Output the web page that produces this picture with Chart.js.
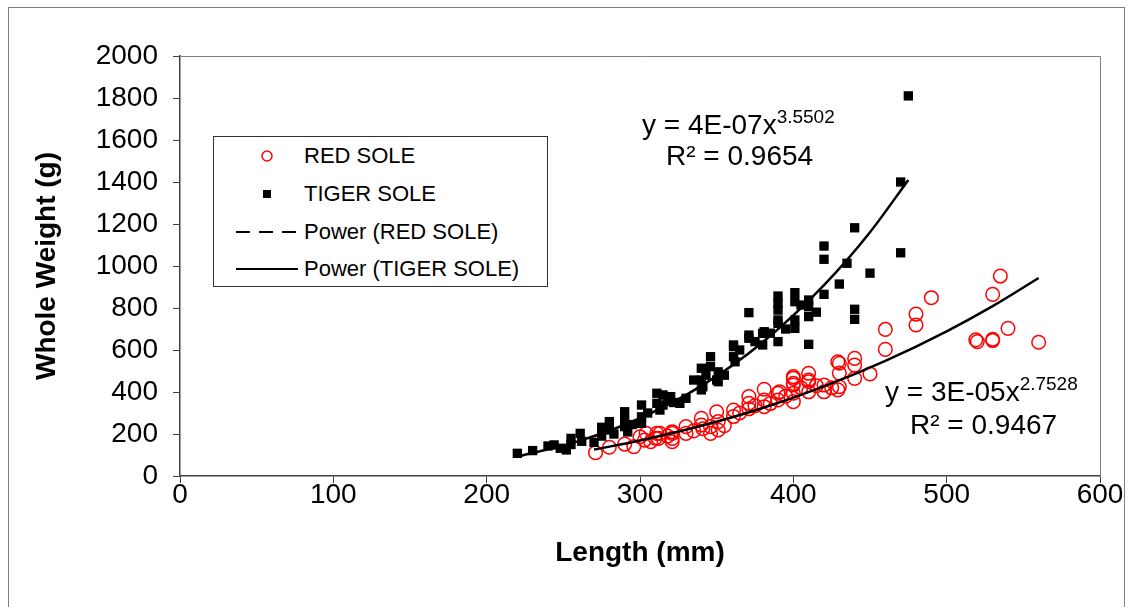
<!DOCTYPE html>
<html>
<head>
<meta charset="utf-8">
<script src="https://cdn.jsdelivr.net/npm/chart.js@4.4.1/dist/chart.umd.min.js"></script>
<style>
  body { margin: 0; background: #fff; }
  #wrap { position: relative; width: 1130px; height: 607px; overflow: hidden; font-family: 'Liberation Sans', Arial, sans-serif; color: #000; }
  #frame { position: absolute; left: 8px; top: 7px; width: 1115px; height: 620px; border: 1px solid #808080; }
  #chart { position: absolute; left: 0; top: 0; }
  .legend { position: absolute; left: 213px; top: 136px; width: 333px; height: 149px; border: 1px solid #333; background: #fff; }
  .legend svg { position: absolute; left: 0; top: 0; }
  .legend .row { position: absolute; left: 90px; height: 26px; line-height: 26px; font-size: 22px; white-space: nowrap; }
  .eq { position: absolute; font-size: 28px; line-height: 32px; white-space: nowrap; }
  .eq sup { font-size: 19px; vertical-align: 11px; line-height: 0; }
</style>
</head>
<body>
<div id="wrap">
  <div id="frame"></div>
  <canvas id="chart" width="1130" height="607"></canvas>

  <div class="legend">
    <svg width="333" height="149">
      <circle cx="53" cy="19" r="5" fill="none" stroke="#ff0000" stroke-width="1.5"/>
      <rect x="49" y="53" width="8" height="8" fill="#000"/>
      <line x1="22" y1="95" x2="84" y2="95" stroke="#000" stroke-width="2" stroke-dasharray="14 9"/>
      <line x1="22" y1="132" x2="84" y2="132" stroke="#000" stroke-width="2"/>
    </svg>
    <div class="row" style="top:6px">RED SOLE</div>
    <div class="row" style="top:44px">TIGER SOLE</div>
    <div class="row" style="top:82px">Power (RED SOLE)</div>
    <div class="row" style="top:119px">Power (TIGER SOLE)</div>
  </div>

  <div class="eq" style="left:642px; top:109px">y = 4E-07x<sup>3.5502</sup></div>
  <div class="eq" style="left:666px; top:140px">R² = 0.9654</div>
  <div class="eq" style="left:885px; top:376px">y = 3E-05x<sup>2.7528</sup></div>
  <div class="eq" style="left:910px; top:409px">R² = 0.9467</div>
</div>

<script>
// axis ticks
const xTicks = [0, 100, 200, 300, 400, 500, 600];
const yTicks = [0, 200, 400, 600, 800, 1000, 1200, 1400, 1600, 1800, 2000];

// red sole: length (mm), weight (g)
const redLen = [271, 280, 290, 296, 300, 303, 304, 307, 310, 311, 312, 313, 318, 321, 321, 321, 321,
  330, 330, 335, 340, 340, 341, 346, 346, 350, 351, 351, 355, 361, 361, 365, 371, 371, 371, 375,
  381, 381, 381, 385, 390, 390, 391, 395, 400, 400, 400, 400, 400, 400, 405, 410, 410, 410, 410,
  415, 420, 420, 425, 429, 429, 430, 430, 430, 440, 440, 440, 450, 460, 460, 480, 480, 490,
  519, 520, 530, 530, 535, 530, 540, 560];
const redWt = [111, 137, 152, 140, 187, 171, 203, 163, 180, 203, 179, 203, 190, 211, 179, 203, 163,
  235, 203, 215, 275, 243, 225, 235, 203, 306, 259, 219, 240, 314, 283, 300, 378, 346, 320, 335,
  413, 362, 330, 345, 394, 362, 401, 380, 473, 441, 465, 433, 394, 354, 420, 489, 457, 449, 401,
  430, 433, 401, 420, 544, 410, 537, 490, 425, 560, 528, 465, 486, 698, 603, 771, 719, 849,
  648, 640, 651, 645, 952, 865, 703, 637];

// tiger sole
const tigerLen = [220, 230, 240, 244, 248, 252, 255, 255, 261, 262, 270, 275, 275, 280, 280, 283,
  290, 290, 290, 292, 295, 301, 301, 301, 305, 311, 311, 313, 315, 315, 318, 320, 322, 326, 330,
  335, 340, 340, 340, 341, 343, 346, 346, 350, 351, 351, 355, 361, 361, 361, 362, 365, 371, 371,
  371, 375, 380, 380, 385, 381, 390, 390, 390, 390, 390, 390, 395, 401, 401, 401, 401, 405, 410,
  410, 410, 410, 415, 420, 420, 420, 430, 435, 440, 440, 440, 450, 470, 470, 475];
const tigerWt = [108, 121, 143, 148, 132, 124, 150, 179, 203, 165, 160, 232, 190, 259, 219, 200,
  306, 266, 235, 210, 245, 338, 282, 251, 300, 394, 346, 314, 386, 338, 362, 378, 350, 346, 370,
  457, 513, 457, 410, 425, 480, 568, 521, 457, 496, 449, 480, 616, 568, 624, 544, 600, 778, 656,
  671, 640, 679, 624, 680, 687, 857, 822, 790, 743, 727, 640, 700, 873, 830, 743, 703, 814, 838,
  806, 759, 627, 780, 1095, 1032, 865, 914, 1013, 1182, 794, 746, 966, 1063, 1400, 1810];

// power trend lines
const redFitLen = [270, 300, 340, 380, 420, 460, 500, 530, 560];
const redFitWt = [126, 169, 239, 324, 427, 548, 689, 809, 943];
const tigerFitLen = [220, 260, 300, 340, 380, 420, 450, 475];
const tigerFitWt = [92, 166, 275, 429, 637, 909, 1161, 1410];

const pairs = (xs, ys) => xs.map((x, i) => ({ x: x, y: ys[i] }));

// gray border round the plot area
const plotBox = {
  id: 'plotBox',
  afterDraw(chart) {
    const { ctx, chartArea: a } = chart;
    ctx.save();
    ctx.strokeStyle = '#808080';
    ctx.lineWidth = 1;
    ctx.beginPath();
    ctx.moveTo(a.left, a.top + 0.5);
    ctx.lineTo(a.right + 0.5, a.top + 0.5);
    ctx.lineTo(a.right + 0.5, a.bottom);
    ctx.stroke();
    ctx.restore();
  }
};

const tickFont = { family: "'Liberation Sans', Arial, sans-serif", size: 28, lineHeight: 1 };
const titleFont = { family: "'Liberation Sans', Arial, sans-serif", size: 28, weight: 'bold' };

new Chart(document.getElementById('chart').getContext('2d'), {
  type: 'scatter',
  data: {
    datasets: [
      {
        label: 'Power (TIGER SOLE)',
        type: 'line',
        data: pairs(tigerFitLen, tigerFitWt),
        borderColor: '#000',
        borderWidth: 2.5,
        pointRadius: 0,
        fill: false,
        cubicInterpolationMode: 'monotone',
        order: 0
      },
      {
        label: 'Power (RED SOLE)',
        type: 'line',
        data: pairs(redFitLen, redFitWt),
        borderColor: '#000',
        borderWidth: 2.5,
        pointRadius: 0,
        fill: false,
        cubicInterpolationMode: 'monotone',
        order: 0
      },
      {
        label: 'TIGER SOLE',
        data: pairs(tigerLen, tigerWt),
        pointStyle: 'rect',
        pointRadius: 6.6,
        backgroundColor: '#000',
        borderColor: '#000',
        borderWidth: 0,
        order: 1
      },
      {
        label: 'RED SOLE',
        data: pairs(redLen, redWt),
        pointStyle: 'circle',
        pointRadius: 6.8,
        backgroundColor: 'rgba(0,0,0,0)',
        borderColor: '#ff0000',
        borderWidth: 1.5,
        order: 2
      }
    ]
  },
  options: {
    responsive: false,
    animation: false,
    devicePixelRatio: 1,
    layout: { padding: { left: 0, top: 56, right: 30, bottom: 0 } },
    plugins: { legend: { display: false }, tooltip: { enabled: false } },
    scales: {
      x: {
        type: 'linear',
        min: 0,
        max: 600,
        afterFit: s => { s.height = 131; },
        afterBuildTicks: s => { s.ticks = xTicks.map(v => ({ value: v })); },
        ticks: { font: tickFont, color: '#000', padding: -2, maxRotation: 0, callback: v => String(v) },
        grid: { drawOnChartArea: false, drawTicks: true, tickLength: 7, color: '#404040' },
        border: { display: true, color: '#404040', width: 1.5 },
        title: { display: true, text: 'Length (mm)', font: titleFont, color: '#000', padding: { top: 0, bottom: 37 } }
      },
      y: {
        type: 'linear',
        min: 0,
        max: 2000,
        afterFit: s => { s.width = 180; },
        afterBuildTicks: s => { s.ticks = yTicks.map(v => ({ value: v })); },
        ticks: { font: tickFont, color: '#000', padding: 15, callback: v => String(v) },
        grid: { drawOnChartArea: false, drawTicks: true, tickLength: 7, color: '#404040' },
        border: { display: true, color: '#404040', width: 1.5 },
        title: { display: true, text: 'Whole Weight (g)', font: titleFont, color: '#000', padding: { top: 30, bottom: 0 } }
      }
    }
  },
  plugins: [plotBox]
});
</script>
</body>
</html>
